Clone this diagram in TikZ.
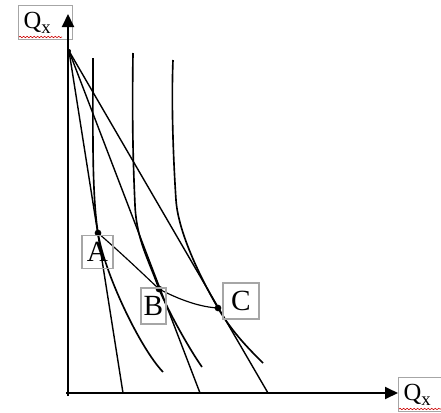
\documentclass[tikz,border=0pt]{standalone}
\usepackage{fontspec}
\setmainfont{Liberation Serif}
\usetikzlibrary{arrows.meta,decorations.pathmorphing}
\newcommand{\qsub}[1]{\raisebox{-0.18em}{\fontsize{16}{16}\selectfont #1}}
\tikzset{
  axis/.style={line width=1.6pt,-{Triangle[length=0.39cm,width=0.36cm]}},
  budget/.style={line width=1.2pt},
  indiff/.style={line width=1.4pt},
  pcc/.style={line width=1.0pt},
  ptlbl/.style={draw=black!35,line width=1.1pt,inner xsep=0pt,inner ysep=0pt,
                minimum height=1cm,font=\fontsize{25}{28}\selectfont},
  axlbl/.style={draw=black!35,line width=1.1pt,anchor=north west,inner xsep=0.15cm,
                inner ysep=0pt,text width=1.32cm,minimum height=1.02cm,align=left,
                font=\fontsize{21}{24}\selectfont},
  squiggle/.style={red!80!black,line width=0.5pt,decorate,
                   decoration={snake,amplitude=0.6pt,segment length=3pt}},
}
\begin{document}
\begin{tikzpicture}[x=0.03cm,y=-0.03cm]
  % frame of the 441x412 picture, y runs downwards
  \useasboundingbox (0,0) rectangle (441,412);
  \clip (0,0) rectangle (441,412);

  % key points
  \coordinate (O) at (68,393);
  \coordinate (T) at (69,51);
  \coordinate (A) at (98,233);
  \coordinate (B) at (159,289);
  \coordinate (C) at (218,308);
  \coordinate (x1) at (123,393);
  \coordinate (x2) at (200,393);
  \coordinate (x3) at (268,393);

  % axis labels
  \node[axlbl] (qv) at (18,5) {Q\qsub{x}};
  \node[axlbl] (qh) at (398,377) {Q\qsub{x}};
  \draw[squiggle] (19,37) -- (62,37);
  \draw[squiggle] (399,409) -- (441,409);

  % axes
  \coordinate (vtip) at (68,14);
  \coordinate (htip) at (qh.west |- O);
  \draw[axis] (68,396) -- (vtip);
  \draw[axis] (66,393) -- (htip);

  % budget lines
  \draw[budget] (T) -- (x1);
  \draw[budget] (T) -- (x2);
  \draw[budget] (T) -- (x3);
  \fill (T) circle (0.06cm);

  % indifference curves
  \draw[indiff] (93,58) .. controls (93,130) and (91.7,193) .. (A)
    .. controls (104.3,273) and (140,348) .. (163,372);
  \draw[indiff] (133,53) .. controls (132,120) and (133,160) .. (135,205)
    .. controls (136.5,240) and (148.5,259) .. (B)
    .. controls (169.6,314) and (190,350) .. (202,367);
  \draw[indiff] (173,60) .. controls (171,110) and (174,170) .. (176,200)
    .. controls (178,230) and (197.7,273) .. (C)
    .. controls (232.5,333) and (251,351) .. (263,363);

  % curve through the optima
  \draw[pcc] (A) .. controls (120,252) and (140,271) .. (B)
    .. controls (180,300) and (200,307) .. (C);
  \foreach \p in {A,B,C}{
    \fill (\p) circle (0.1cm);
  }

  % point labels
  \node[ptlbl,minimum width=0.93cm] (lA) at (97.5,252) {A};
  \node[ptlbl,minimum width=0.75cm,minimum height=1.08cm] (lB) at (153.5,306) {B};
  \node[ptlbl,minimum width=1.08cm,minimum height=1.08cm] (lC) at (241,301) {C};
\end{tikzpicture}
\end{document}
